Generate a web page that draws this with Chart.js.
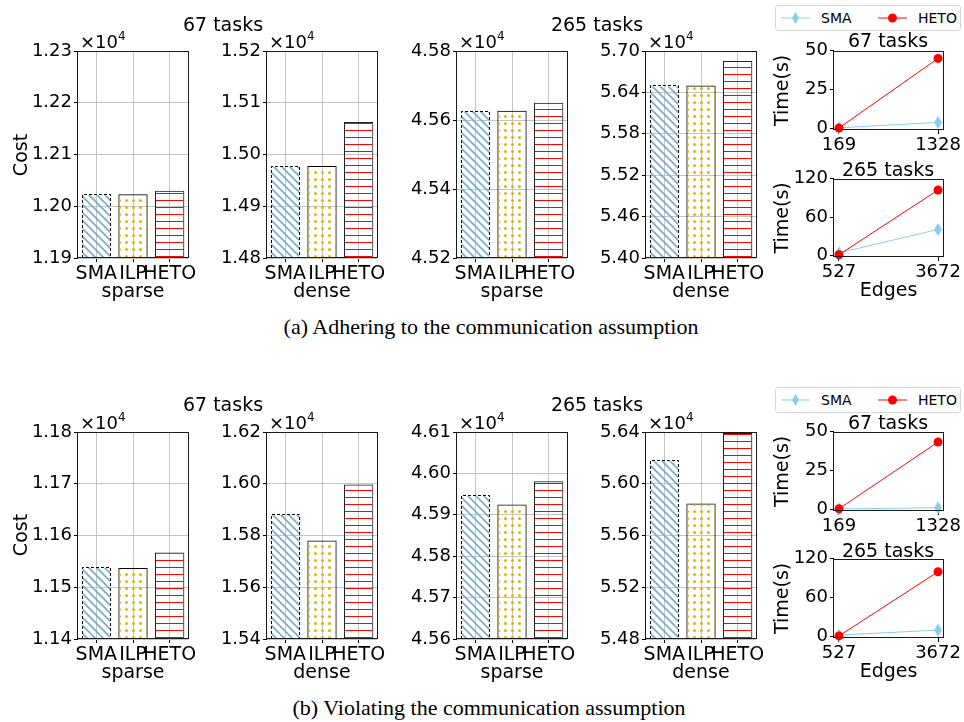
<!DOCTYPE html>
<html>
<head>
<meta charset="utf-8">
<script src="https://cdn.jsdelivr.net/npm/chart.js@4.4.0/dist/chart.umd.min.js"></script>
<style>
  body { margin: 0; background: #fff; }
  #fig { position: relative; width: 964px; height: 722px; overflow: hidden;
         font-family: "DejaVu Sans", sans-serif; color: #000; }
  #fig canvas { position: absolute; }
  .txt { position: absolute; white-space: nowrap; transform: translate(-50%, -50%); line-height: 1; }
  .rot { transform: translate(-50%, -50%) rotate(-90deg); }
  .cap { font-family: "Liberation Serif", "Times New Roman", serif; font-size: 22px; }
  .exp { position: absolute; white-space: nowrap; font-size: 18px; line-height: 20px; }
  .exp span { font-size: 12px; position: relative; top: -8px; }
  .legend { position: absolute; left: 775px; width: 184px; height: 24px;
            border: 1px solid #d6d6d6; border-radius: 3px; background: #fff; }
  .legend svg { position: absolute; left: 0; top: 0; }
  .legend .lt { position: absolute; top: 4px; font-size: 14px; line-height: 16px; }
</style>
</head>
<body>
<div id="fig">
  <canvas id="a1"></canvas><canvas id="a2"></canvas><canvas id="a3"></canvas><canvas id="a4"></canvas>
  <canvas id="a5"></canvas><canvas id="a6"></canvas>
  <canvas id="b1"></canvas><canvas id="b2"></canvas><canvas id="b3"></canvas><canvas id="b4"></canvas>
  <canvas id="b5"></canvas><canvas id="b6"></canvas>

  <div class="legend" style="top:5px">
    <svg width="184" height="24">
      <line x1="5" y1="12" x2="34" y2="12" stroke="#87ceeb" stroke-width="1"/>
      <polygon points="19.5,6 23,12 19.5,18 16,12" fill="#87ceeb"/>
      <line x1="102" y1="12" x2="131" y2="12" stroke="#ff0000" stroke-width="1"/>
      <circle cx="116.5" cy="12" r="4.5" fill="#ff0000"/>
    </svg>
    <span class="lt" style="left:45px">SMA</span>
    <span class="lt" style="left:142px">HETO</span>
  </div>
  <div class="legend" style="top:387px">
    <svg width="184" height="24">
      <line x1="5" y1="12" x2="34" y2="12" stroke="#87ceeb" stroke-width="1"/>
      <polygon points="19.5,6 23,12 19.5,18 16,12" fill="#87ceeb"/>
      <line x1="102" y1="12" x2="131" y2="12" stroke="#ff0000" stroke-width="1"/>
      <circle cx="116.5" cy="12" r="4.5" fill="#ff0000"/>
    </svg>
    <span class="lt" style="left:45px">SMA</span>
    <span class="lt" style="left:142px">HETO</span>
  </div>
</div>

<script>
// categories
const methods = ['SMA', 'ILP', 'HETO'];

// (a) adhering to the communication assumption - cost
const costA67Sparse = [12023, 12023, 12030];
const costA67Dense = [14978, 14978, 15063];
const costA265Sparse = [45627, 45627, 45650];
const costA265Dense = [56500, 56500, 56856];
// (b) violating the communication assumption - cost
const costB67Sparse = [11539, 11537, 11567];
const costB67Dense = [15883, 15781, 15997];
const costB265Sparse = [45947, 45925, 45981];
const costB265Dense = [56182, 55848, 56392];

// y tick values of the cost panels
const ticksA67Sparse = [11900, 12000, 12100, 12200, 12300];
const ticksA67Dense = [14800, 14900, 15000, 15100, 15200];
const ticksA265Sparse = [45200, 45400, 45600, 45800];
const ticksA265Dense = [54000, 54600, 55200, 55800, 56400, 57000];
const ticksB67Sparse = [11400, 11500, 11600, 11700, 11800];
const ticksB67Dense = [15400, 15600, 15800, 16000, 16200];
const ticksB265Sparse = [45600, 45700, 45800, 45900, 46000, 46100];
const ticksB265Dense = [54800, 55200, 55600, 56000, 56400];

// running time vs. edges
const edges67 = [169, 1328];
const edges265 = [527, 3672];
const timeA67Sma = [0.4, 3.9];
const timeA67Heto = [0.3, 45.1];
const timeA265Sma = [4.5, 41];
const timeA265Heto = [1.5, 102.5];
const timeB67Sma = [0.3, 1.1];
const timeB67Heto = [0.4, 43.4];
const timeB265Sma = [2.5, 10.2];
const timeB265Heto = [1.2, 100];
const timeTicks67 = [0, 25, 50];
const timeTicks265 = [0, 60, 120];

const GRID = '#c4c4c4';
const SMA_BLUE = '#87ceeb';

Chart.defaults.font.family = '"DejaVu Sans", sans-serif';
Chart.defaults.font.size = 18;
Chart.defaults.color = '#000';
Chart.defaults.animation = false;

// black box round the plot area
const frame = {
    id: 'frame',
    afterDraw(chart) {
        const a = chart.chartArea;
        const ctx = chart.ctx;
        ctx.save();
        ctx.strokeStyle = '#1a1a1a';
        ctx.lineWidth = 1;
        ctx.strokeRect(Math.round(a.left) - 0.5, Math.round(a.top) + 0.5,
                       Math.round(a.right - a.left) + 1, Math.round(a.bottom - a.top) - 1);
        ctx.restore();
    }
};

// dashed outline of the SMA bar
const dashedEdge = {
    id: 'dashedEdge',
    afterDatasetsDraw(chart) {
        const bar = chart.getDatasetMeta(0).data[0];
        const p = bar.getProps(['x', 'y', 'base', 'width'], true);
        const ctx = chart.ctx;
        const l = Math.round(p.x - p.width / 2) + 0.5;
        const r = Math.round(p.x + p.width / 2) - 0.5;
        const t = Math.round(p.y) + 0.5;
        const b = Math.round(p.base);
        ctx.save();
        ctx.setLineDash([3, 2]);
        ctx.strokeStyle = '#000';
        ctx.lineWidth = 1;
        ctx.beginPath();
        ctx.moveTo(l, b); ctx.lineTo(l, t); ctx.lineTo(r, t); ctx.lineTo(r, b);
        ctx.stroke();
        ctx.restore();
    }
};

function makePattern(ctx, kind) {
    const tile = document.createElement('canvas');
    const g = tile.getContext('2d');
    if (kind === 'diag') {
        tile.width = tile.height = 8;
        g.strokeStyle = '#78abc9';
        g.lineWidth = 1.6;
        g.beginPath();
        g.moveTo(-2, -2); g.lineTo(10, 10);
        g.moveTo(-2, 6); g.lineTo(2, 10);
        g.moveTo(6, -2); g.lineTo(10, 2);
        g.stroke();
    } else if (kind === 'dots') {
        tile.width = tile.height = 7;
        g.fillStyle = '#e0b400';
        g.beginPath();
        g.arc(3.5, 3.5, 1.5, 0, Math.PI * 2);
        g.fill();
    } else {
        tile.width = tile.height = 7;
        g.fillStyle = '#ff0000';
        g.fillRect(0, 3, 7, 1);
    }
    return ctx.createPattern(tile, 'repeat');
}

function thinDiamond() {
    const c = document.createElement('canvas');
    c.width = 8; c.height = 13;
    const g = c.getContext('2d');
    g.fillStyle = SMA_BLUE;
    g.beginPath();
    g.moveTo(4, 0); g.lineTo(8, 6.5); g.lineTo(4, 13); g.lineTo(0, 6.5);
    g.closePath();
    g.fill();
    return c;
}

function costChart(id, box, values, ticks, xTitle) {
    const padL = 60, padT = 15, padR = 24, padB = 48;
    const canvas = document.getElementById(id);
    canvas.width = box.w + padL + padR;
    canvas.height = box.h + padT + padB;
    canvas.style.left = (box.x - padL) + 'px';
    canvas.style.top = (box.y - padT) + 'px';
    const ctx = canvas.getContext('2d');

    new Chart(ctx, {
        type: 'bar',
        data: {
            labels: methods,
            datasets: [{
                data: values,
                base: ticks[0],
                backgroundColor: [makePattern(ctx, 'diag'), makePattern(ctx, 'dots'), makePattern(ctx, 'lines')],
                borderColor: ['rgba(0,0,0,0)', '#000', '#222'],
                borderWidth: 1,
                categoryPercentage: 0.8,
                barPercentage: 1
            }]
        },
        options: {
            responsive: false,
            layout: { padding: { left: 0, top: padT, right: padR, bottom: 0 } },
            plugins: { legend: { display: false }, tooltip: { enabled: false } },
            scales: {
                x: {
                    grid: { offset: false, color: GRID, tickColor: '#000', tickLength: 4 },
                    border: { display: false },
                    ticks: { autoSkip: false, maxRotation: 0, minRotation: 0, padding: 1, font: { size: 19 } },
                    title: { display: true, text: xTitle, font: { size: 19 }, padding: { top: 0, bottom: 3 } },
                    afterFit: s => { s.height = padB; }
                },
                y: {
                    min: ticks[0],
                    max: ticks[ticks.length - 1],
                    afterBuildTicks: s => { s.ticks = ticks.map(v => ({ value: v })); },
                    grid: { color: GRID, tickColor: '#000', tickLength: 4 },
                    border: { display: false },
                    ticks: { padding: 2, callback: v => (v / 1e4).toFixed(2) },
                    afterFit: s => { s.width = padL; }
                }
            }
        },
        plugins: [dashedEdge, frame]
    });
}

function timeChart(id, box, edges, sma, heto, ticks, yMin, withTitle) {
    const padL = 64, padT = 12, padR = 21, padB = withTitle ? 48 : 26;
    const canvas = document.getElementById(id);
    canvas.width = box.w + padL + padR;
    canvas.height = box.h + padT + padB;
    canvas.style.left = (box.x - padL) + 'px';
    canvas.style.top = (box.y - padT) + 'px';
    const span = edges[1] - edges[0];

    new Chart(canvas.getContext('2d'), {
        type: 'line',
        data: {
            datasets: [{
                label: 'HETO',
                data: edges.map((e, i) => ({ x: e, y: heto[i] })),
                borderColor: '#ff0000',
                backgroundColor: '#ff0000',
                borderWidth: 1,
                pointStyle: 'circle',
                pointRadius: 4.5,
                pointBorderWidth: 0,
                clip: false,
                order: 0
            }, {
                label: 'SMA',
                data: edges.map((e, i) => ({ x: e, y: sma[i] })),
                borderColor: SMA_BLUE,
                backgroundColor: SMA_BLUE,
                borderWidth: 1,
                pointStyle: thinDiamond(),
                pointRadius: 5,
                clip: false,
                order: 1
            }]
        },
        options: {
            responsive: false,
            layout: { padding: { left: 0, top: padT, right: padR, bottom: 0 } },
            plugins: { legend: { display: false }, tooltip: { enabled: false } },
            scales: {
                x: {
                    type: 'linear',
                    min: edges[0] - 0.05 * span,
                    max: edges[1] + 0.05 * span,
                    afterBuildTicks: s => { s.ticks = edges.map(v => ({ value: v })); },
                    grid: { drawOnChartArea: false, tickColor: '#000', tickLength: 4 },
                    border: { display: false },
                    ticks: { padding: 1, maxRotation: 0, callback: v => String(v) },
                    title: { display: withTitle, text: 'Edges', font: { size: 19 }, padding: { top: 0, bottom: 3 } },
                    afterFit: s => { s.height = padB; }
                },
                y: {
                    min: yMin,
                    max: ticks[ticks.length - 1],
                    afterBuildTicks: s => { s.ticks = ticks.map(v => ({ value: v })); },
                    grid: { drawOnChartArea: false, tickColor: '#000', tickLength: 4 },
                    border: { display: false },
                    ticks: { padding: 2, callback: v => String(v) },
                    title: { display: true, text: 'Time(s)', font: { size: 19 }, padding: { top: 2, bottom: 0 } },
                    afterFit: s => { s.width = padL; }
                }
            }
        },
        plugins: [frame]
    });
}

// row (a)
costChart('a1', { x: 78, y: 51, w: 110, h: 207 }, costA67Sparse, ticksA67Sparse, 'sparse');
costChart('a2', { x: 267, y: 51, w: 110, h: 207 }, costA67Dense, ticksA67Dense, 'dense');
costChart('a3', { x: 457, y: 51, w: 110, h: 207 }, costA265Sparse, ticksA265Sparse, 'sparse');
costChart('a4', { x: 646, y: 51, w: 110, h: 207 }, costA265Dense, ticksA265Dense, 'dense');
timeChart('a5', { x: 834, y: 50, w: 109, h: 80 }, edges67, timeA67Sma, timeA67Heto, timeTicks67, -1, false);
timeChart('a6', { x: 834, y: 178, w: 109, h: 79 }, edges265, timeA265Sma, timeA265Heto, timeTicks265, -2, true);

// row (b)
costChart('b1', { x: 78, y: 432, w: 110, h: 207 }, costB67Sparse, ticksB67Sparse, 'sparse');
costChart('b2', { x: 267, y: 432, w: 110, h: 207 }, costB67Dense, ticksB67Dense, 'dense');
costChart('b3', { x: 457, y: 432, w: 110, h: 207 }, costB265Sparse, ticksB265Sparse, 'sparse');
costChart('b4', { x: 646, y: 432, w: 110, h: 207 }, costB265Dense, ticksB265Dense, 'dense');
timeChart('b5', { x: 834, y: 431, w: 109, h: 80 }, edges67, timeB67Sma, timeB67Heto, timeTicks67, -1, false);
timeChart('b6', { x: 834, y: 558, w: 109, h: 80 }, edges265, timeB265Sma, timeB265Heto, timeTicks265, -2, true);

// texts
const fig = document.getElementById('fig');
function addText(text, x, y, size, cls) {
    const d = document.createElement('div');
    d.className = 'txt' + (cls ? ' ' + cls : '');
    d.textContent = text;
    d.style.left = x + 'px';
    d.style.top = y + 'px';
    if (size) d.style.fontSize = size + 'px';
    fig.appendChild(d);
}
function addExponent(x, plotTop) {
    const d = document.createElement('div');
    d.className = 'exp';
    d.innerHTML = '×10<span>4</span>';
    d.style.left = (x + 2) + 'px';
    d.style.top = (plotTop - 19) + 'px';
    fig.appendChild(d);
}

[78, 267, 457, 646].forEach(x => { addExponent(x, 51); addExponent(x, 432); });

addText('67 tasks', 223, 24, 19);
addText('265 tasks', 597, 24, 19);
addText('67 tasks', 223, 404, 19);
addText('265 tasks', 597, 404, 19);
addText('67 tasks', 888, 40, 19);
addText('265 tasks', 888, 169, 19);
addText('67 tasks', 888, 422, 19);
addText('265 tasks', 888, 550, 19);
addText('Cost', 20, 155, 19, 'rot');
addText('Cost', 20, 535, 19, 'rot');
addText('(a) Adhering to the communication assumption', 491, 327, 0, 'cap');
addText('(b) Violating the communication assumption', 489, 708, 0, 'cap');
</script>
</body>
</html>
